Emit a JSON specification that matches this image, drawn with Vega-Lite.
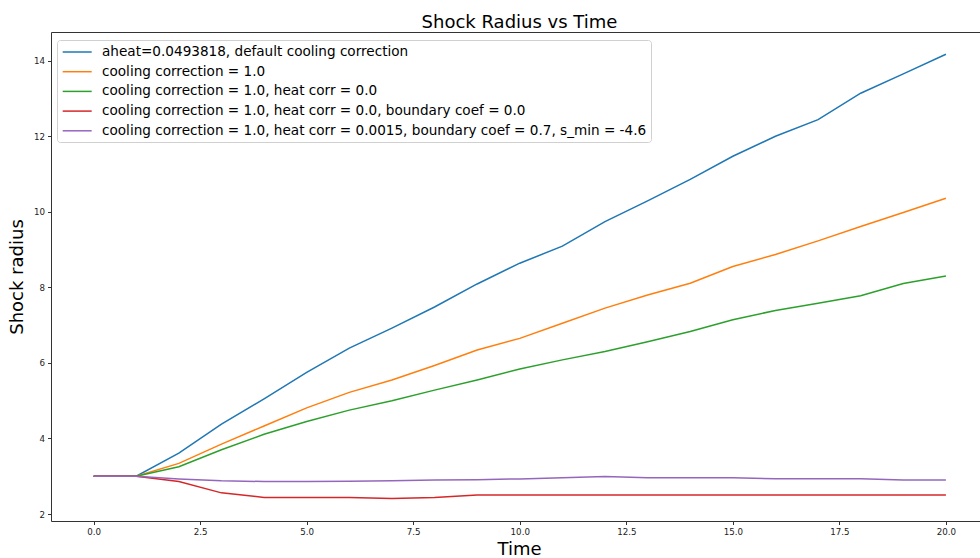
{
  "$schema": "https://vega.github.io/schema/vega-lite/v6.json",
  "autosize": {"type": "none"},
  "width": 929,
  "height": 489,
  "padding": {"left": 51, "top": 32, "right": 0, "bottom": 37},
  "background": "white",
  "title": {
    "text": "Shock Radius vs Time",
    "font": "DejaVu Sans",
    "fontSize": 18,
    "fontWeight": "normal",
    "color": "#000000",
    "anchor": "middle",
    "dx": 4,
    "dy": 18,
    "offset": 4,
    "baseline": "alphabetic"
  },
  "config": {"view": {"stroke": null}, "font": "DejaVu Sans"},
  "data": {
    "values": [
      {"s": "aheat=0.0493818, default cooling correction", "t": 0, "r": 3.0},
      {"s": "aheat=0.0493818, default cooling correction", "t": 1, "r": 3.0},
      {"s": "aheat=0.0493818, default cooling correction", "t": 2, "r": 3.61},
      {"s": "aheat=0.0493818, default cooling correction", "t": 3, "r": 4.38},
      {"s": "aheat=0.0493818, default cooling correction", "t": 4, "r": 5.05},
      {"s": "aheat=0.0493818, default cooling correction", "t": 5, "r": 5.75},
      {"s": "aheat=0.0493818, default cooling correction", "t": 6, "r": 6.39},
      {"s": "aheat=0.0493818, default cooling correction", "t": 7, "r": 6.92},
      {"s": "aheat=0.0493818, default cooling correction", "t": 8, "r": 7.48},
      {"s": "aheat=0.0493818, default cooling correction", "t": 9, "r": 8.09},
      {"s": "aheat=0.0493818, default cooling correction", "t": 10, "r": 8.64},
      {"s": "aheat=0.0493818, default cooling correction", "t": 11, "r": 9.09},
      {"s": "aheat=0.0493818, default cooling correction", "t": 12, "r": 9.74},
      {"s": "aheat=0.0493818, default cooling correction", "t": 13, "r": 10.29},
      {"s": "aheat=0.0493818, default cooling correction", "t": 14, "r": 10.86},
      {"s": "aheat=0.0493818, default cooling correction", "t": 15, "r": 11.47},
      {"s": "aheat=0.0493818, default cooling correction", "t": 16, "r": 12.0},
      {"s": "aheat=0.0493818, default cooling correction", "t": 17, "r": 12.44},
      {"s": "aheat=0.0493818, default cooling correction", "t": 18, "r": 13.14},
      {"s": "aheat=0.0493818, default cooling correction", "t": 19, "r": 13.65},
      {"s": "aheat=0.0493818, default cooling correction", "t": 20, "r": 14.17},
      {"s": "cooling correction = 1.0", "t": 0, "r": 3.0},
      {"s": "cooling correction = 1.0", "t": 1, "r": 3.0},
      {"s": "cooling correction = 1.0", "t": 2, "r": 3.34},
      {"s": "cooling correction = 1.0", "t": 3, "r": 3.85},
      {"s": "cooling correction = 1.0", "t": 4, "r": 4.33},
      {"s": "cooling correction = 1.0", "t": 5, "r": 4.81},
      {"s": "cooling correction = 1.0", "t": 6, "r": 5.22},
      {"s": "cooling correction = 1.0", "t": 7, "r": 5.55},
      {"s": "cooling correction = 1.0", "t": 8, "r": 5.93},
      {"s": "cooling correction = 1.0", "t": 9, "r": 6.34},
      {"s": "cooling correction = 1.0", "t": 10, "r": 6.65},
      {"s": "cooling correction = 1.0", "t": 11, "r": 7.05},
      {"s": "cooling correction = 1.0", "t": 12, "r": 7.45},
      {"s": "cooling correction = 1.0", "t": 13, "r": 7.8},
      {"s": "cooling correction = 1.0", "t": 14, "r": 8.11},
      {"s": "cooling correction = 1.0", "t": 15, "r": 8.55},
      {"s": "cooling correction = 1.0", "t": 16, "r": 8.87},
      {"s": "cooling correction = 1.0", "t": 17, "r": 9.23},
      {"s": "cooling correction = 1.0", "t": 18, "r": 9.61},
      {"s": "cooling correction = 1.0", "t": 19, "r": 9.98},
      {"s": "cooling correction = 1.0", "t": 20, "r": 10.36},
      {"s": "cooling correction = 1.0, heat corr = 0.0", "t": 0, "r": 3.0},
      {"s": "cooling correction = 1.0, heat corr = 0.0", "t": 1, "r": 3.0},
      {"s": "cooling correction = 1.0, heat corr = 0.0", "t": 2, "r": 3.25},
      {"s": "cooling correction = 1.0, heat corr = 0.0", "t": 3, "r": 3.7},
      {"s": "cooling correction = 1.0, heat corr = 0.0", "t": 4, "r": 4.11},
      {"s": "cooling correction = 1.0, heat corr = 0.0", "t": 5, "r": 4.45},
      {"s": "cooling correction = 1.0, heat corr = 0.0", "t": 6, "r": 4.75},
      {"s": "cooling correction = 1.0, heat corr = 0.0", "t": 7, "r": 5.0},
      {"s": "cooling correction = 1.0, heat corr = 0.0", "t": 8, "r": 5.28},
      {"s": "cooling correction = 1.0, heat corr = 0.0", "t": 9, "r": 5.55},
      {"s": "cooling correction = 1.0, heat corr = 0.0", "t": 10, "r": 5.84},
      {"s": "cooling correction = 1.0, heat corr = 0.0", "t": 11, "r": 6.08},
      {"s": "cooling correction = 1.0, heat corr = 0.0", "t": 12, "r": 6.3},
      {"s": "cooling correction = 1.0, heat corr = 0.0", "t": 13, "r": 6.56},
      {"s": "cooling correction = 1.0, heat corr = 0.0", "t": 14, "r": 6.83},
      {"s": "cooling correction = 1.0, heat corr = 0.0", "t": 15, "r": 7.14},
      {"s": "cooling correction = 1.0, heat corr = 0.0", "t": 16, "r": 7.39},
      {"s": "cooling correction = 1.0, heat corr = 0.0", "t": 17, "r": 7.58},
      {"s": "cooling correction = 1.0, heat corr = 0.0", "t": 18, "r": 7.78},
      {"s": "cooling correction = 1.0, heat corr = 0.0", "t": 19, "r": 8.1},
      {"s": "cooling correction = 1.0, heat corr = 0.0", "t": 20, "r": 8.3},
      {"s": "cooling correction = 1.0, heat corr = 0.0, boundary coef = 0.0", "t": 0, "r": 3.0},
      {"s": "cooling correction = 1.0, heat corr = 0.0, boundary coef = 0.0", "t": 1, "r": 3.0},
      {"s": "cooling correction = 1.0, heat corr = 0.0, boundary coef = 0.0", "t": 2, "r": 2.86},
      {"s": "cooling correction = 1.0, heat corr = 0.0, boundary coef = 0.0", "t": 3, "r": 2.56},
      {"s": "cooling correction = 1.0, heat corr = 0.0, boundary coef = 0.0", "t": 4, "r": 2.44},
      {"s": "cooling correction = 1.0, heat corr = 0.0, boundary coef = 0.0", "t": 5, "r": 2.44},
      {"s": "cooling correction = 1.0, heat corr = 0.0, boundary coef = 0.0", "t": 6, "r": 2.44},
      {"s": "cooling correction = 1.0, heat corr = 0.0, boundary coef = 0.0", "t": 7, "r": 2.41},
      {"s": "cooling correction = 1.0, heat corr = 0.0, boundary coef = 0.0", "t": 8, "r": 2.44},
      {"s": "cooling correction = 1.0, heat corr = 0.0, boundary coef = 0.0", "t": 9, "r": 2.5},
      {"s": "cooling correction = 1.0, heat corr = 0.0, boundary coef = 0.0", "t": 10, "r": 2.5},
      {"s": "cooling correction = 1.0, heat corr = 0.0, boundary coef = 0.0", "t": 11, "r": 2.5},
      {"s": "cooling correction = 1.0, heat corr = 0.0, boundary coef = 0.0", "t": 12, "r": 2.5},
      {"s": "cooling correction = 1.0, heat corr = 0.0, boundary coef = 0.0", "t": 13, "r": 2.5},
      {"s": "cooling correction = 1.0, heat corr = 0.0, boundary coef = 0.0", "t": 14, "r": 2.5},
      {"s": "cooling correction = 1.0, heat corr = 0.0, boundary coef = 0.0", "t": 15, "r": 2.5},
      {"s": "cooling correction = 1.0, heat corr = 0.0, boundary coef = 0.0", "t": 16, "r": 2.5},
      {"s": "cooling correction = 1.0, heat corr = 0.0, boundary coef = 0.0", "t": 17, "r": 2.5},
      {"s": "cooling correction = 1.0, heat corr = 0.0, boundary coef = 0.0", "t": 18, "r": 2.5},
      {"s": "cooling correction = 1.0, heat corr = 0.0, boundary coef = 0.0", "t": 19, "r": 2.5},
      {"s": "cooling correction = 1.0, heat corr = 0.0, boundary coef = 0.0", "t": 20, "r": 2.5},
      {"s": "cooling correction = 1.0, heat corr = 0.0015, boundary coef = 0.7, s_min = -4.6", "t": 0, "r": 3.0},
      {"s": "cooling correction = 1.0, heat corr = 0.0015, boundary coef = 0.7, s_min = -4.6", "t": 1, "r": 3.0},
      {"s": "cooling correction = 1.0, heat corr = 0.0015, boundary coef = 0.7, s_min = -4.6", "t": 2, "r": 2.93},
      {"s": "cooling correction = 1.0, heat corr = 0.0015, boundary coef = 0.7, s_min = -4.6", "t": 3, "r": 2.88},
      {"s": "cooling correction = 1.0, heat corr = 0.0015, boundary coef = 0.7, s_min = -4.6", "t": 4, "r": 2.86},
      {"s": "cooling correction = 1.0, heat corr = 0.0015, boundary coef = 0.7, s_min = -4.6", "t": 5, "r": 2.86},
      {"s": "cooling correction = 1.0, heat corr = 0.0015, boundary coef = 0.7, s_min = -4.6", "t": 6, "r": 2.87},
      {"s": "cooling correction = 1.0, heat corr = 0.0015, boundary coef = 0.7, s_min = -4.6", "t": 7, "r": 2.88},
      {"s": "cooling correction = 1.0, heat corr = 0.0015, boundary coef = 0.7, s_min = -4.6", "t": 8, "r": 2.9},
      {"s": "cooling correction = 1.0, heat corr = 0.0015, boundary coef = 0.7, s_min = -4.6", "t": 9, "r": 2.91},
      {"s": "cooling correction = 1.0, heat corr = 0.0015, boundary coef = 0.7, s_min = -4.6", "t": 10, "r": 2.93},
      {"s": "cooling correction = 1.0, heat corr = 0.0015, boundary coef = 0.7, s_min = -4.6", "t": 11, "r": 2.96},
      {"s": "cooling correction = 1.0, heat corr = 0.0015, boundary coef = 0.7, s_min = -4.6", "t": 12, "r": 2.99},
      {"s": "cooling correction = 1.0, heat corr = 0.0015, boundary coef = 0.7, s_min = -4.6", "t": 13, "r": 2.96},
      {"s": "cooling correction = 1.0, heat corr = 0.0015, boundary coef = 0.7, s_min = -4.6", "t": 14, "r": 2.96},
      {"s": "cooling correction = 1.0, heat corr = 0.0015, boundary coef = 0.7, s_min = -4.6", "t": 15, "r": 2.96},
      {"s": "cooling correction = 1.0, heat corr = 0.0015, boundary coef = 0.7, s_min = -4.6", "t": 16, "r": 2.935},
      {"s": "cooling correction = 1.0, heat corr = 0.0015, boundary coef = 0.7, s_min = -4.6", "t": 17, "r": 2.935},
      {"s": "cooling correction = 1.0, heat corr = 0.0015, boundary coef = 0.7, s_min = -4.6", "t": 18, "r": 2.935},
      {"s": "cooling correction = 1.0, heat corr = 0.0015, boundary coef = 0.7, s_min = -4.6", "t": 19, "r": 2.9},
      {"s": "cooling correction = 1.0, heat corr = 0.0015, boundary coef = 0.7, s_min = -4.6", "t": 20, "r": 2.9}
    ]
  },
  "encoding": {
    "y": {
      "field": "r",
      "type": "quantitative",
      "scale": {"domain": [1.815, 14.76], "nice": false, "zero": false},
      "axis": {
        "values": [2, 4, 6, 8, 10, 12, 14],
        "format": "d",
        "grid": false,
        "title": "Shock radius",
        "titleFont": "DejaVu Sans",
        "titleFontSize": 18,
        "titleFontWeight": "normal",
        "titleColor": "#000000",
        "titlePadding": 7,
        "labelFont": "DejaVu Sans",
        "labelFontSize": 8.7,
        "labelColor": "#222222",
        "labelPadding": 3,
        "tickSize": 3.5,
        "tickColor": "#333333",
        "domainColor": "#333333",
        "domainWidth": 1
      }
    }
  },
  "layer": [
    {
      "mark": {"type": "line", "strokeWidth": 1.5, "clip": true},
      "encoding": {
        "x": {
          "field": "t",
          "type": "quantitative",
          "scale": {"domain": [-1, 20.8], "nice": false, "zero": false},
          "axis": {
            "values": [0, 2.5, 5, 7.5, 10, 12.5, 15, 17.5, 20],
            "format": ".1f",
            "grid": false,
            "title": "Time",
            "titleFont": "DejaVu Sans",
            "titleFontSize": 18,
            "titleFontWeight": "normal",
            "titleColor": "#000000",
            "titlePadding": 4,
            "titleX": 468,
            "labelFont": "DejaVu Sans",
            "labelFontSize": 8.7,
            "labelColor": "#222222",
            "labelPadding": 3,
            "tickSize": 3.5,
            "tickColor": "#333333",
            "domainColor": "#333333",
            "domainWidth": 1
          }
        },
        "color": {
          "field": "s",
          "type": "nominal",
          "sort": null,
          "scale": {
            "domain": [
              "aheat=0.0493818, default cooling correction",
              "cooling correction = 1.0",
              "cooling correction = 1.0, heat corr = 0.0",
              "cooling correction = 1.0, heat corr = 0.0, boundary coef = 0.0",
              "cooling correction = 1.0, heat corr = 0.0015, boundary coef = 0.7, s_min = -4.6"
            ],
            "range": ["#1f77b4", "#ff7f0e", "#2ca02c", "#d62728", "#9467bd"]
          },
          "legend": {
            "orient": "none",
            "legendX": 6,
            "legendY": 8,
            "title": null,
            "symbolType": "M-0.9,0H3.24",
            "symbolSize": 196,
            "symbolStrokeWidth": 1.5,
            "labelFont": "DejaVu Sans",
            "labelFontSize": 13.6,
            "labelColor": "#000000",
            "labelOffset": 25,
            "labelLimit": 1000,
            "rowPadding": 4.7,
            "padding": 4,
            "strokeColor": "#d0d0d0",
            "fillColor": "rgba(255,255,255,0.8)",
            "cornerRadius": 3
          }
        }
      }
    },
    {
      "mark": {"type": "line", "strokeOpacity": 0},
      "encoding": {
        "x": {
          "field": "t",
          "type": "quantitative",
          "axis": {
            "orient": "top",
            "labels": false,
            "ticks": false,
            "grid": false,
            "title": null,
            "domainColor": "#333333",
            "domainWidth": 1
          }
        },
        "detail": {"field": "s"}
      }
    }
  ],
  "resolve": {"axis": {"x": "independent"}}
}
